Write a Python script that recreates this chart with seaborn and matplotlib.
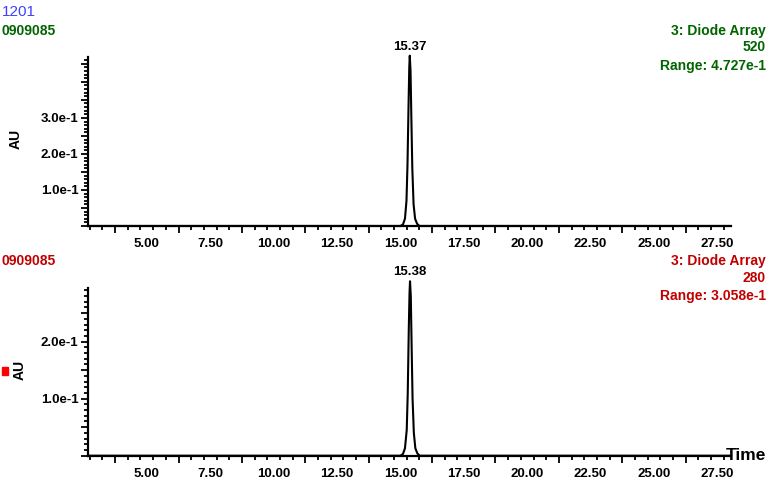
import numpy as np
import pandas as pd
import seaborn as sns
import matplotlib.pyplot as plt
from matplotlib.ticker import MultipleLocator, FuncFormatter

# chromatogram traces (time in min, absorbance in AU)
time_520 = [2.68, 15.00, 15.10, 15.18, 15.24, 15.28, 15.32, 15.35, 15.37, 15.40, 15.43, 15.47, 15.52, 15.58, 15.66, 15.75, 28.02]
au_520 = [0.0, 0.0, 0.004, 0.02, 0.07, 0.17, 0.33, 0.44, 0.4727, 0.43, 0.31, 0.16, 0.06, 0.02, 0.006, 0.0, 0.0]
time_280 = [2.68, 15.00, 15.10, 15.18, 15.25, 15.29, 15.33, 15.36, 15.38, 15.41, 15.44, 15.48, 15.53, 15.59, 15.67, 15.76, 28.02]
au_280 = [0.0, 0.0, 0.003, 0.013, 0.045, 0.11, 0.22, 0.285, 0.3058, 0.28, 0.2, 0.1, 0.04, 0.013, 0.004, 0.0, 0.0]

peak_520 = (15.37, 0.4727, "15.37")
peak_280 = (15.38, 0.3058, "15.38")

x_labels = [5.0, 7.5, 10.0, 12.5, 15.0, 17.5, 20.0, 22.5, 25.0, 27.5]
y_labels_520 = [0.1, 0.2, 0.3]
y_labels_280 = [0.1, 0.2]

sample = "0909085"
run_id = "1201"
green = "#006400"
red = "#c00000"

sns.set_style("ticks")
plt.rcParams['font.family'] = ['Liberation Sans', 'DejaVu Sans']
plt.rcParams['font.weight'] = 'bold'
for k in ['text.color', 'xtick.color', 'ytick.color', 'axes.edgecolor', 'axes.labelcolor']:
    plt.rcParams[k] = 'black'

fig = plt.figure(figsize=(7.68, 4.8), dpi=100)
ax1 = fig.add_axes([0.1146, 0.5292, 0.8366, 0.352])
ax2 = fig.add_axes([0.1146, 0.0506, 0.8366, 0.3494])


def style_axis(ax, t, a, peak, ylabels, ytop):
    df = pd.DataFrame({"t": t, "au": a})
    sns.lineplot(data=df, x="t", y="au", ax=ax, color="black", lw=1.5,
                 estimator=None, sort=False, clip_on=False)
    ax.set_xlim(2.68, 28.02)
    ax.set_ylim(0, ytop)
    for s in ["top", "right"]:
        ax.spines[s].set_visible(False)
    for s in ["left", "bottom"]:
        ax.spines[s].set_linewidth(1.6)
    ax.set_xlabel("")
    ax.set_ylabel("")
    # long ticks sit between the labelled times, short ones every 0.5
    ax.xaxis.set_major_locator(MultipleLocator(2.5, offset=1.25))
    ax.xaxis.set_minor_locator(MultipleLocator(0.5, offset=0.25))
    ax.tick_params(axis="x", which="major", length=5, width=1.3, labelbottom=False)
    ax.tick_params(axis="x", which="minor", length=3, width=1.3)
    sec = ax.secondary_xaxis("bottom")
    sec.set_xticks(x_labels, [f"{v:.2f}" for v in x_labels])
    sec.tick_params(length=0, pad=9, labelsize=9.5)
    sec.spines["bottom"].set_visible(False)
    ax.yaxis.set_major_locator(MultipleLocator(0.05))
    ax.yaxis.set_minor_locator(MultipleLocator(0.01))
    ax.yaxis.set_major_formatter(FuncFormatter(
        lambda v, p: f"{v * 10:.1f}e-1" if any(abs(v - l) < 1e-6 for l in ylabels) else ""))
    ax.tick_params(axis="y", which="major", length=5, width=1.3, labelsize=9.5, pad=2)
    ax.tick_params(axis="y", which="minor", length=3, width=1.3)
    ax.annotate(peak[2], (peak[0], peak[1]), xytext=(0, 2), textcoords="offset points",
                ha="center", va="bottom", fontsize=9.5, fontweight="bold",
                annotation_clip=False)


style_axis(ax1, time_520, au_520, peak_520, y_labels_520, 0.469)
style_axis(ax2, time_280, au_280, peak_280, y_labels_280, 0.294)

# header texts
fig.text(0.002, 0.975, run_id, color="#4040ff", fontsize=11, fontweight="normal",
         va="center", ha="left")
fig.text(0.002, 0.935, sample, color=green, fontsize=10, va="center")
fig.text(0.997, 0.935, "3: Diode Array", color=green, fontsize=10, va="center", ha="right")
fig.text(0.997, 0.902, "520", color=green, fontsize=10, va="center", ha="right")
fig.text(0.997, 0.862, "Range: 4.727e-1", color=green, fontsize=10, va="center", ha="right")

fig.text(0.002, 0.456, sample, color=red, fontsize=10, va="center")
fig.text(0.997, 0.456, "3: Diode Array", color=red, fontsize=10, va="center", ha="right")
fig.text(0.997, 0.421, "280", color=red, fontsize=10, va="center", ha="right")
fig.text(0.997, 0.383, "Range: 3.058e-1", color=red, fontsize=10, va="center", ha="right")

fig.text(0.02, 0.71, "AU", rotation=90, fontsize=10, va="center", ha="center")
fig.text(0.025, 0.23, "AU", rotation=90, fontsize=10, va="center", ha="center")
fig.patches.append(plt.Rectangle((0.003, 0.218), 0.008, 0.017, color="red",
                                 transform=fig.transFigure, figure=fig))
fig.text(0.997, 0.05, "Time", fontsize=12.5, va="center", ha="right")

fig.savefig("out.png", dpi=100)
